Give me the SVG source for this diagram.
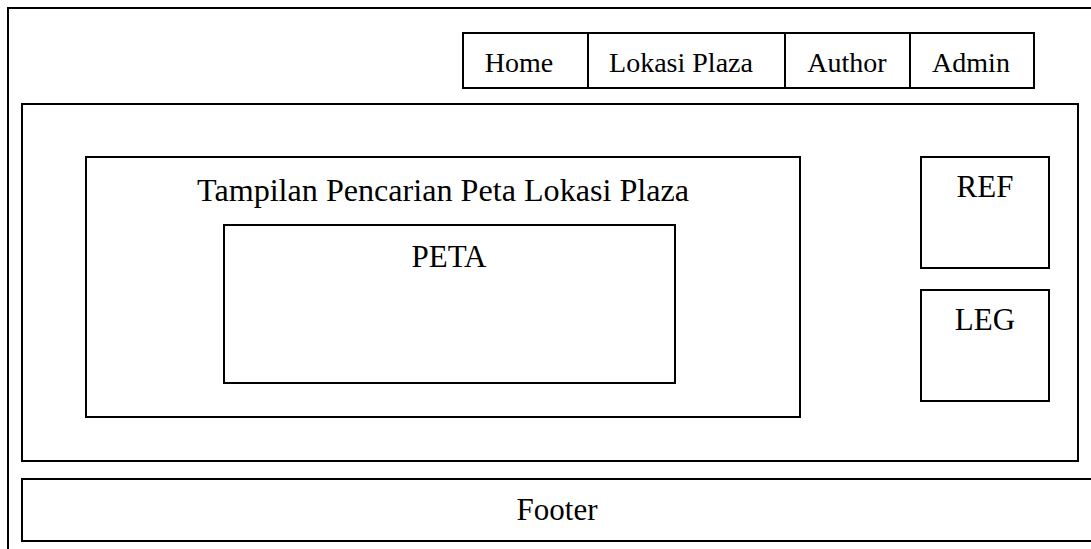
<svg xmlns="http://www.w3.org/2000/svg" width="1091" height="549" viewBox="0 0 1091 549">
<style>
.b{fill:#fff;stroke:#000;stroke-width:2}
.t{font-family:"Liberation Serif","Times New Roman",serif;font-size:31px;fill:#000;text-anchor:middle}
.n{font-size:28px}
</style>
<rect width="1091" height="549" fill="#fff"/>
<g id="frame"><path d="M8,549 V8 H1092" fill="none" stroke="#000" stroke-width="2"/></g>
<g id="nav">
<rect class="b" x="463" y="33" width="571" height="55"/>
<line x1="588" y1="33" x2="588" y2="88" stroke="#000" stroke-width="2"/>
<line x1="785" y1="33" x2="785" y2="88" stroke="#000" stroke-width="2"/>
<line x1="910" y1="33" x2="910" y2="88" stroke="#000" stroke-width="2"/>
<text class="t n" x="519" y="72">Home</text>
<text class="t n" x="681" y="72">Lokasi Plaza</text>
<text class="t n" x="847" y="72">Author</text>
<text class="t n" x="971" y="72">Admin</text>
</g>
<g id="main"><rect class="b" x="22" y="104" width="1056" height="357"/></g>
<g id="tampilan"><rect class="b" x="86" y="157" width="714" height="260"/>
<text class="t" x="443" y="201" textLength="492" lengthAdjust="spacingAndGlyphs">Tampilan Pencarian Peta Lokasi Plaza</text></g>
<g id="peta"><rect class="b" x="224" y="225" width="451" height="158"/>
<text class="t" x="449" y="267">PETA</text></g>
<g id="ref"><rect class="b" x="921" y="157" width="128" height="111"/>
<text class="t" x="985" y="197">REF</text></g>
<g id="leg"><rect class="b" x="921" y="290" width="128" height="111"/>
<text class="t" x="985" y="330">LEG</text></g>
<g id="footer"><rect class="b" x="22" y="479" width="1080" height="62"/>
<text class="t" x="557" y="520">Footer</text></g>
<g id="connectors"></g>
</svg>
